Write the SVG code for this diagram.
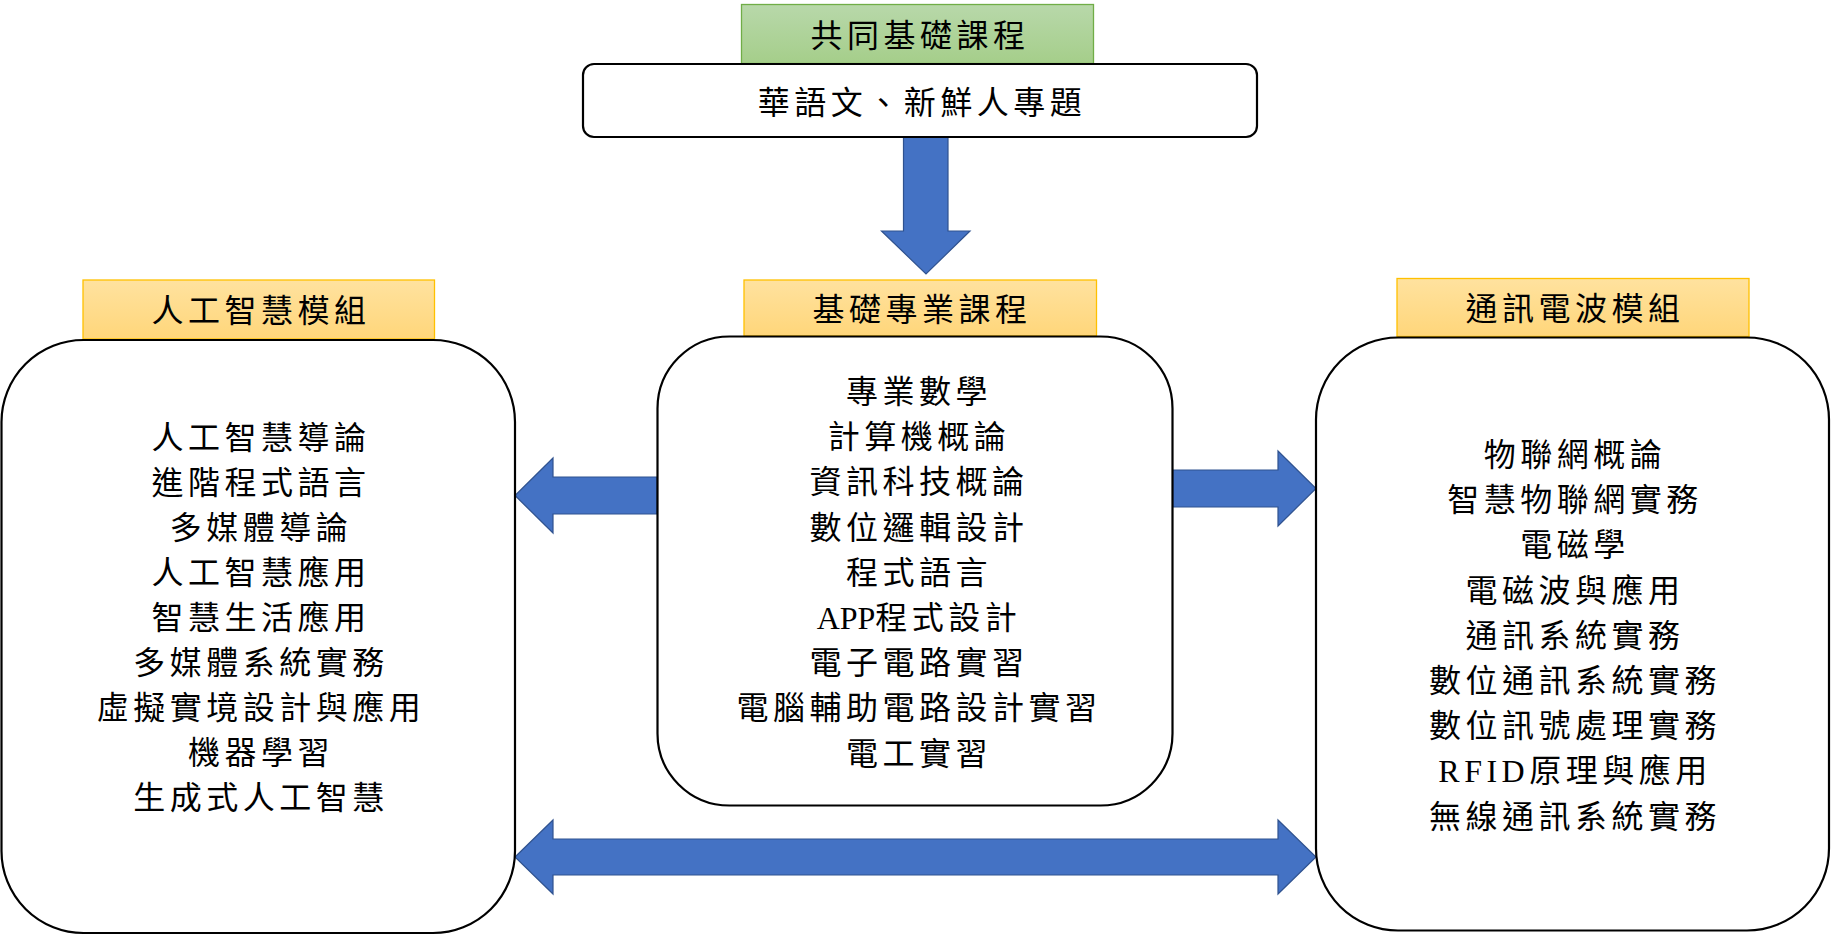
<svg xmlns="http://www.w3.org/2000/svg" width="1831" height="935" viewBox="0 0 1831 935">
<style>
  .t { font-family: "Liberation Serif", "Noto Sans CJK TC", serif; font-size: 32px; letter-spacing: 4.5px; text-anchor: middle; fill: #000; }
  .box { fill: #fff; stroke: #000; stroke-width: 2.2; }
  .hy { fill: url(#gy); stroke: #ffc000; stroke-width: 1.3; }
  .hg { fill: url(#gg); stroke: #70ad47; stroke-width: 1.3; }
  .arr { fill: #4472c4; stroke: #2f528f; stroke-width: 1.2; stroke-linejoin: miter; }
  .lat { letter-spacing: 0; }
</style>
<defs>
  <linearGradient id="gy" x1="0" y1="0" x2="0" y2="1">
    <stop offset="0" stop-color="#ffe29f"/>
    <stop offset="1" stop-color="#ffd67a"/>
  </linearGradient>
  <linearGradient id="gg" x1="0" y1="0" x2="0" y2="1">
    <stop offset="0" stop-color="#b8d8aa"/>
    <stop offset="1" stop-color="#a5ce8a"/>
  </linearGradient>
</defs>
<rect width="1831" height="935" fill="#fff"/>

<g id="connectors">
  <polygon class="arr" points="903.5,137 948,137 948,231 970,231 926,274 881.5,231 903.5,231"/>
  <polygon class="arr" points="657,477 553,477 553,458 515,495.5 553,533 553,514 657,514"/>
  <polygon class="arr" points="1172,470 1278,470 1278,451 1316,488.5 1278,526 1278,507 1172,507"/>
  <polygon class="arr" points="515,857 553,820 553,839 1278,839 1278,820 1316,857 1278,894 1278,875 553,875 553,894"/>
</g>

<g id="common-header">
  <rect class="hg" x="741.5" y="4.5" width="352" height="59"/>
  <text class="t" x="920" y="47">共同基礎課程</text>
</g>
<g id="common-box">
  <rect class="box" x="583" y="64" width="674" height="73" rx="11"/>
  <text class="t" x="922" y="114">華語文、新鮮人專題</text>
</g>

<g id="ai-module">
  <rect class="hy" x="83" y="280" width="351.5" height="59"/>
  <text class="t" x="261" y="322">人工智慧模組</text>
  <rect class="box" x="1.5" y="340" width="513.5" height="593" rx="82"/>
  <text class="t" x="261" y="449">人工智慧導論<tspan x="261" dy="45">進階程式語言</tspan><tspan x="261" dy="45">多媒體導論</tspan><tspan x="261" dy="45">人工智慧應用</tspan><tspan x="261" dy="45">智慧生活應用</tspan><tspan x="261" dy="45">多媒體系統實務</tspan><tspan x="261" dy="45">虛擬實境設計與應用</tspan><tspan x="261" dy="45">機器學習</tspan><tspan x="261" dy="45">生成式人工智慧</tspan></text>
</g>

<g id="basic-module">
  <rect class="hy" x="744" y="280" width="352.5" height="56"/>
  <text class="t" x="922" y="321">基礎專業課程</text>
  <rect class="box" x="657.5" y="336.5" width="515" height="469" rx="72"/>
  <text class="t" x="919" y="403">專業數學<tspan x="919" dy="45.2">計算機概論</tspan><tspan x="919" dy="45.2">資訊科技概論</tspan><tspan x="919" dy="45.2">數位邏輯設計</tspan><tspan x="919" dy="45.2">程式語言</tspan><tspan x="919" dy="45.2"><tspan class="lat">APP</tspan>程式設計</tspan><tspan x="919" dy="45.2">電子電路實習</tspan><tspan x="919" dy="45.2">電腦輔助電路設計實習</tspan><tspan x="919" dy="45.2">電工實習</tspan></text>
</g>

<g id="comm-module">
  <rect class="hy" x="1397" y="278.5" width="352" height="58"/>
  <text class="t" x="1575" y="320">通訊電波模組</text>
  <rect class="box" x="1316" y="337.5" width="513" height="593" rx="82"/>
  <text class="t" x="1575" y="466">物聯網概論<tspan x="1575" dy="45.2">智慧物聯網實務</tspan><tspan x="1575" dy="45.2">電磁學</tspan><tspan x="1575" dy="45.2">電磁波與應用</tspan><tspan x="1575" dy="45.2">通訊系統實務</tspan><tspan x="1575" dy="45.2">數位通訊系統實務</tspan><tspan x="1575" dy="45.2">數位訊號處理實務</tspan><tspan x="1575" dy="45.2">RFID原理與應用</tspan><tspan x="1575" dy="45.2">無線通訊系統實務</tspan></text>
</g>
</svg>
